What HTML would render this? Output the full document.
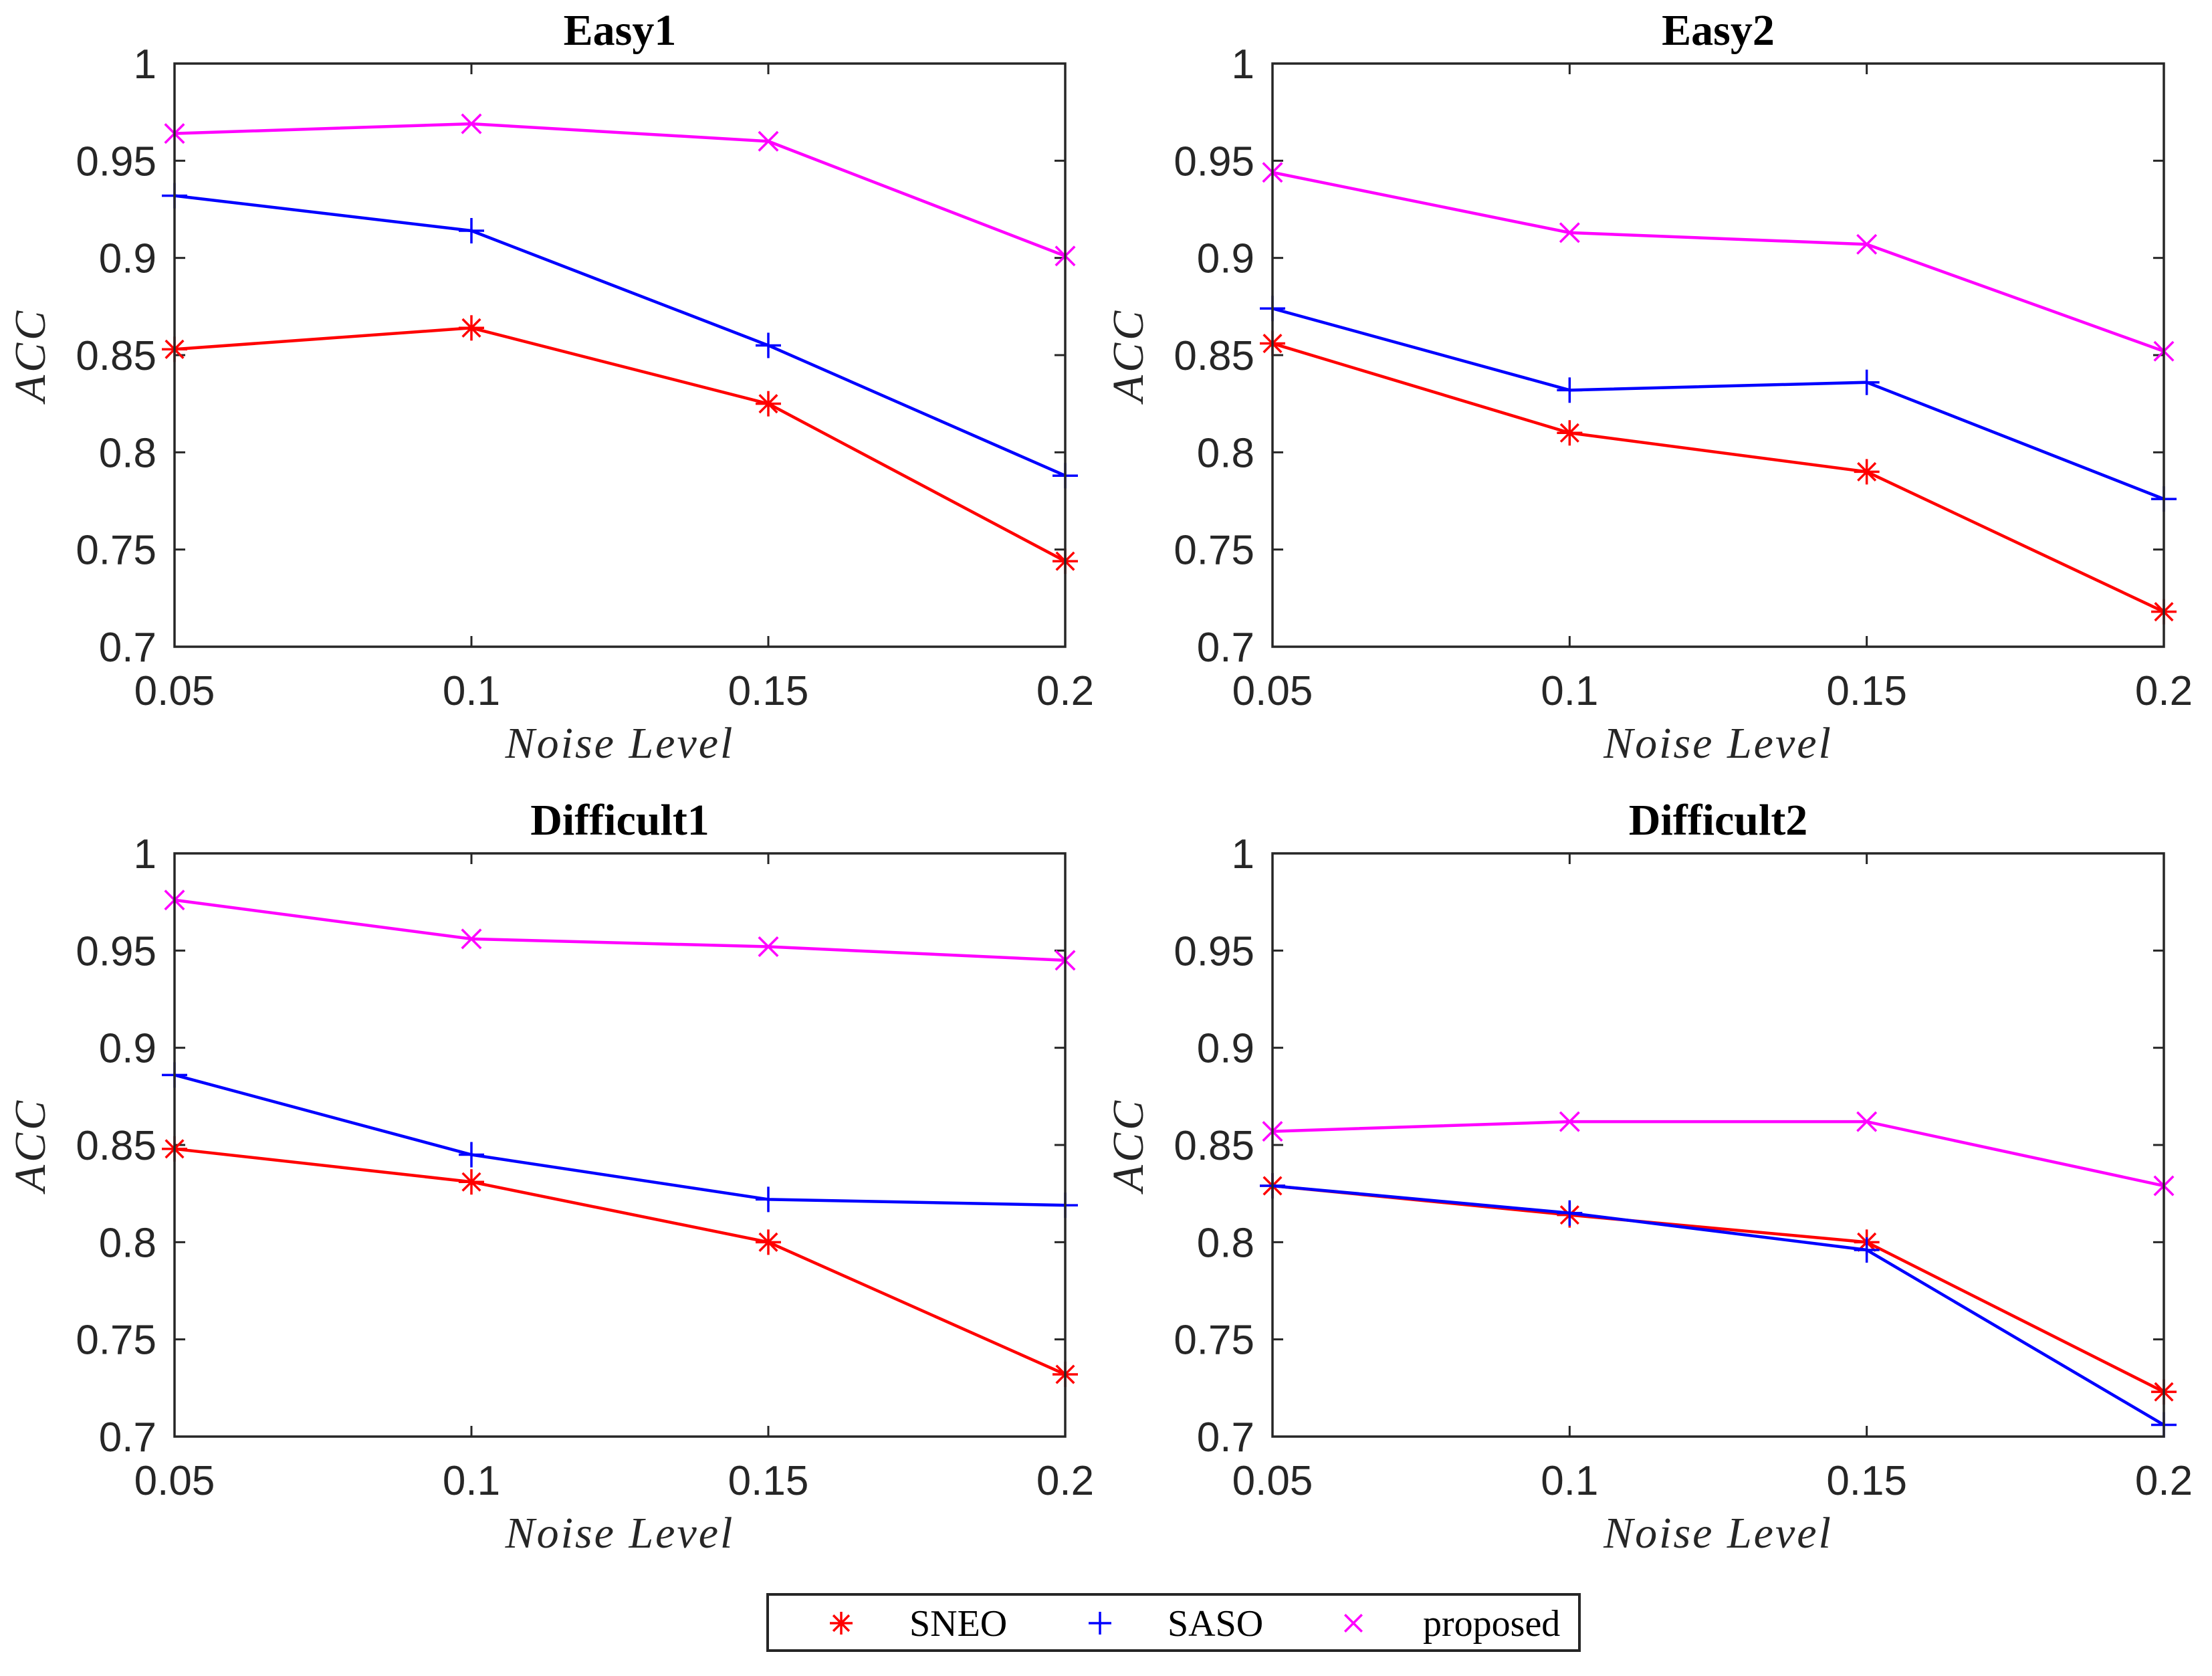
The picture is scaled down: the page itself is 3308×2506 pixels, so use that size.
<!DOCTYPE html>
<html><head><meta charset="utf-8"><style>
html,body{margin:0;padding:0;background:#fff;width:3308px;height:2506px;overflow:hidden}
svg{display:block}
</style></head><body>
<svg id="fig" width="3308" height="2506" viewBox="0 0 3308 2506" xmlns="http://www.w3.org/2000/svg"></svg>
<script>
const categories = [0.05, 0.1, 0.15, 0.2];
const xTickLabels = ["0.05", "0.1", "0.15", "0.2"];
const yTicks = [0.7, 0.75, 0.8, 0.85, 0.9, 0.95, 1];
const yTickLabels = ["0.7", "0.75", "0.8", "0.85", "0.9", "0.95", "1"];
const panelTitles = ["Easy1", "Easy2", "Difficult1", "Difficult2"];
const seriesNames = ["SNEO", "SASO", "proposed"];
const easy1SNEO = [0.853, 0.864, 0.825, 0.744];
const easy1SASO = [0.932, 0.914, 0.855, 0.788];
const easy1Proposed = [0.964, 0.969, 0.960, 0.901];
const easy2SNEO = [0.856, 0.810, 0.790, 0.718];
const easy2SASO = [0.874, 0.832, 0.836, 0.776];
const easy2Proposed = [0.944, 0.913, 0.907, 0.852];
const diff1SNEO = [0.848, 0.831, 0.800, 0.732];
const diff1SASO = [0.886, 0.845, 0.822, 0.819];
const diff1Proposed = [0.976, 0.956, 0.952, 0.945];
const diff2SNEO = [0.829, 0.814, 0.800, 0.723];
const diff2SASO = [0.829, 0.815, 0.796, 0.706];
const diff2Proposed = [0.857, 0.862, 0.862, 0.829];

const panelData = [
  [easy1SNEO, easy1SASO, easy1Proposed],
  [easy2SNEO, easy2SASO, easy2Proposed],
  [diff1SNEO, diff1SASO, diff1Proposed],
  [diff2SNEO, diff2SASO, diff2Proposed]
];
const colors = ["#ff0000", "#0000ff", "#ff00ff"];
const boxes = [
  {l:261, r:1593, t:95, b:967},
  {l:1903, r:3236, t:95, b:967},
  {l:261, r:1593, t:1276, b:2148},
  {l:1903, r:3236, t:1276, b:2148}
];
const NS = "http://www.w3.org/2000/svg";
const svg = document.getElementById('fig');
function mk(tag, attrs, parent) {
  const e = document.createElementNS(NS, tag);
  for (const k in attrs) e.setAttribute(k, attrs[k]);
  (parent || svg).appendChild(e);
  return e;
}
function marker(g, kind, x, y, c, s) {
  const p = [];
  if (kind === 0) {
    p.push([x - s, y, x + s, y], [x, y - s, x, y + s], [x - s*0.7, y - s*0.7, x + s*0.7, y + s*0.7], [x - s*0.7, y + s*0.7, x + s*0.7, y - s*0.7]);
  } else if (kind === 1) {
    p.push([x - s, y, x + s, y], [x, y - s, x, y + s]);
  } else {
    p.push([x - s*0.75, y - s*0.75, x + s*0.75, y + s*0.75], [x - s*0.75, y + s*0.75, x + s*0.75, y - s*0.75]);
  }
  p.forEach(q => mk('line', {x1:q[0], y1:q[1], x2:q[2], y2:q[3], stroke:c, 'stroke-width':3.5}, g));
}
panelData.forEach((series, pi) => {
  const B = boxes[pi];
  const g = mk('g', {});
  
  
  const xs = v => B.l + (v - categories[0]) / (categories[categories.length-1] - categories[0]) * (B.r - B.l);
  const ys = v => B.b - (v - 0.7) / (1 - 0.7) * (B.b - B.t);
  yTicks.forEach((t, i) => {
    const y = ys(t);
    mk('line', {x1:B.l, y1:y, x2:B.l+16, y2:y, stroke:'#262626', 'stroke-width':3}, g);
    mk('line', {x1:B.r, y1:y, x2:B.r-16, y2:y, stroke:'#262626', 'stroke-width':3}, g);
    const tx = mk('text', {x:B.l-27, y:y+22, 'text-anchor':'end', 'font-family':'Liberation Sans, sans-serif', 'font-size':62, fill:'#262626'}, g);
    tx.textContent = yTickLabels[i];
    
    
  });
  categories.forEach((c, i) => {
    const x = xs(c);
    mk('line', {x1:x, y1:B.b, x2:x, y2:B.b-16, stroke:'#262626', 'stroke-width':3}, g);
    mk('line', {x1:x, y1:B.t, x2:x, y2:B.t+16, stroke:'#262626', 'stroke-width':3}, g);
    const tx = mk('text', {x:x, y:B.b+87, 'text-anchor':'middle', 'font-family':'Liberation Sans, sans-serif', 'font-size':62, fill:'#262626'}, g);
    tx.textContent = xTickLabels[i];
    
    
  });
  series.forEach((vals, si) => {
    const pts = vals.map((v, i) => xs(categories[i]) + ',' + ys(v)).join(' ');
    const pl = mk('polyline', {points:pts, fill:'none', stroke:colors[si], 'stroke-width':4.5}, g);
    
    
    const mg = mk('g', {}, g);
    
    
    vals.forEach((v, i) => marker(mg, si, xs(categories[i]), ys(v), colors[si], 19));
  });
  mk('rect', {x:B.l, y:B.t, width:B.r-B.l, height:B.b-B.t, fill:'none', stroke:'#262626', 'stroke-width':3.5}, g);
  const cx = (B.l + B.r) / 2;
  const title = mk('text', {x:cx, y:B.t-28, 'text-anchor':'middle', 'font-family':'Liberation Serif, serif', 'font-weight':'bold', 'font-size':66, fill:'#000'}, g);
  title.textContent = panelTitles[pi];
  
  
  const xl = mk('text', {x:cx, y:B.b+166, 'text-anchor':'middle', 'font-family':'Liberation Serif, serif', 'font-style':'italic', 'font-size':66, fill:'#262626', 'letter-spacing':'3'}, g);
  xl.textContent = 'Noise Level';
  
  
  const cy = (B.t + B.b) / 2;
  const yl = mk('text', {x:B.l-194, y:cy, 'text-anchor':'middle', 'font-family':'Liberation Serif, serif', 'font-style':'italic', 'font-size':66, fill:'#262626', transform:'rotate(-90 ' + (B.l-194) + ' ' + cy + ')', 'letter-spacing':'4'}, g);
  yl.textContent = 'ACC';
  
  
});
const lg = mk('g', {});


mk('rect', {x:1148, y:2384, width:1214, height:84, fill:'#fff', stroke:'#262626', 'stroke-width':4}, lg);
const legMarkXs = [1258, 1645, 2024];
const legTextX = [1360, 1746, 2128];
seriesNames.forEach((n, i) => {
  const eg = mk('g', {}, lg);
  
  
  marker(eg, i, legMarkXs[i], 2427, colors[i], 17);
  const t = mk('text', {x:legTextX[i], y:2446, 'font-family':'Liberation Serif, serif', 'font-size':56, fill:'#000'}, eg);
  t.textContent = n;
});
</script>
</body></html>
